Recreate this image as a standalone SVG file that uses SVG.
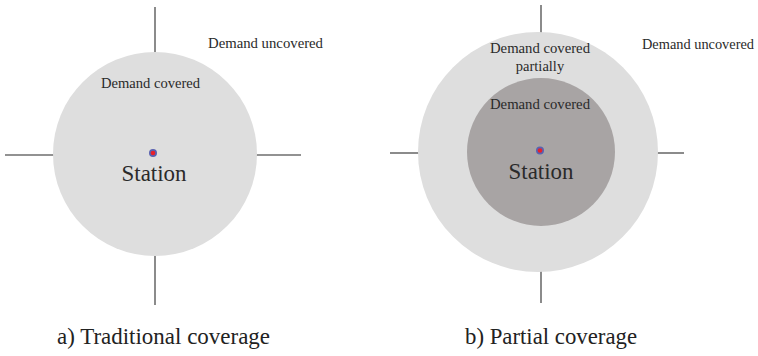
<svg xmlns="http://www.w3.org/2000/svg" width="758" height="356" viewBox="0 0 758 356">
<style>
.ax{stroke:#6e6e6e;stroke-width:1.6;fill:none}
text{font-family:"Liberation Serif","Tinos","DejaVu Serif","Noto Serif",serif;fill:#2a2a2a}
.s{font-size:14.5px}
.st{font-size:23px;text-anchor:middle}
.cap{font-size:23px;fill:#222}
.light{fill:#dedede}
.dark{fill:#a8a4a4}
.dotO{fill:#5a62b0}
.dotI{fill:#e8202a}
</style>
<rect width="758" height="356" fill="#ffffff"/>
<g id="connectors">
<line class="ax" x1="155" y1="7" x2="155" y2="52"/>
<line class="ax" x1="155" y1="254" x2="155" y2="305"/>
<line class="ax" x1="5" y1="155" x2="54" y2="155"/>
<line class="ax" x1="256" y1="155" x2="301" y2="155"/>
<line class="ax" x1="541" y1="5" x2="541" y2="33"/>
<line class="ax" x1="541" y1="271" x2="541" y2="303"/>
<line class="ax" x1="390" y1="153" x2="419" y2="153"/>
<line class="ax" x1="657" y1="153" x2="684" y2="153"/>
</g>
<g id="traditional-coverage">
<circle class="light" cx="155" cy="154" r="102"/>
<text class="s" x="101" y="88" font-family="Liberation Serif, serif" textLength="99" lengthAdjust="spacingAndGlyphs">Demand covered</text>
</g>
<g id="station-a">
<circle class="dotO" cx="153" cy="153" r="4"/>
<circle class="dotI" cx="153" cy="153" r="2.3"/>
<text class="st" x="154" y="181" font-family="Liberation Serif, serif" textLength="65" lengthAdjust="spacingAndGlyphs">Station</text>
</g>
<g id="uncovered-a">
<text class="s" x="208" y="48" font-family="Liberation Serif, serif" textLength="115" lengthAdjust="spacingAndGlyphs">Demand uncovered</text>
</g>
<g id="partial-outer">
<circle class="light" cx="538" cy="152" r="120"/>
<text class="s" x="490" y="53" font-family="Liberation Serif, serif" textLength="100" lengthAdjust="spacingAndGlyphs">Demand covered</text>
<text class="s" x="540" y="71" font-family="Liberation Serif, serif" text-anchor="middle">partially</text>
</g>
<g id="partial-inner">
<circle class="dark" cx="541" cy="152" r="74"/>
<text class="s" x="490" y="109" font-family="Liberation Serif, serif" textLength="100" lengthAdjust="spacingAndGlyphs">Demand covered</text>
</g>
<g id="station-b">
<circle class="dotO" cx="540" cy="150.5" r="4"/>
<circle class="dotI" cx="540" cy="150.5" r="2.3"/>
<text class="st" x="541" y="179" font-family="Liberation Serif, serif" textLength="65" lengthAdjust="spacingAndGlyphs">Station</text>
</g>
<g id="uncovered-b">
<text class="s" x="642" y="49" font-family="Liberation Serif, serif" textLength="112" lengthAdjust="spacingAndGlyphs">Demand uncovered</text>
</g>
<g id="captions">
<text class="cap" x="57" y="344" font-family="Liberation Serif, serif" textLength="213" lengthAdjust="spacingAndGlyphs">a) Traditional coverage</text>
<text class="cap" x="465" y="344" font-family="Liberation Serif, serif" textLength="172" lengthAdjust="spacingAndGlyphs">b) Partial coverage</text>
</g>
</svg>
